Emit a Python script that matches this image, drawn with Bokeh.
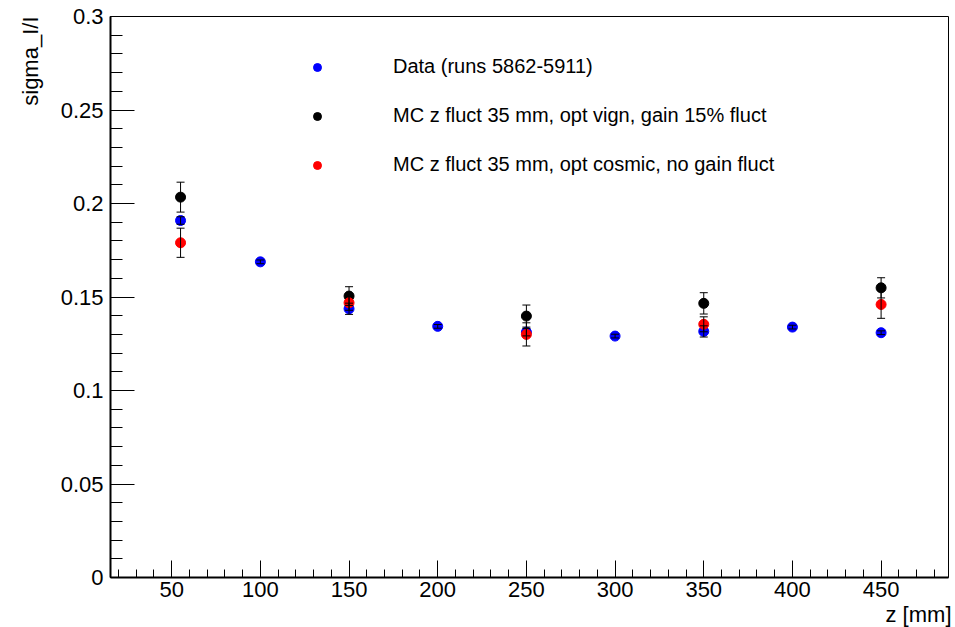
import math
from bokeh.plotting import figure
from bokeh.models import (Range1d, FixedTicker, Whisker, TeeHead, ColumnDataSource,
                          Title, Legend, LegendItem)
from bokeh.embed import file_html
from bokeh.resources import INLINE

# ---- data ----
x_data = [55, 100, 150, 200, 250, 300, 350, 400, 450]
y_data = [0.1909, 0.1688, 0.1437, 0.1343, 0.1312, 0.1291, 0.1316, 0.1339, 0.1309]
e_data = [0.002, 0.001, 0.003, 0.001, 0.002, 0.001, 0.003, 0.001, 0.001]

x_mc_vign = [55, 150, 250, 350, 450]
y_mc_vign = [0.2034, 0.1505, 0.1398, 0.1466, 0.1549]
e_mc_vign = [0.0080, 0.0050, 0.0059, 0.0057, 0.0054]

x_mc_cosmic = [55, 150, 250, 350, 450]
y_mc_cosmic = [0.1790, 0.1469, 0.1300, 0.1354, 0.1460]
e_mc_cosmic = [0.0078, 0.0040, 0.0062, 0.0040, 0.0074]

labels = ["Data (runs 5862-5911)",
          "MC z fluct 35 mm, opt vign, gain 15% fluct",
          "MC z fluct 35 mm, opt cosmic, no gain fluct"]
colors = ["#0000ff", "#000000", "#ff0000"]

x_ticks = [50, 100, 150, 200, 250, 300, 350, 400, 450]
x_minor = [v for v in range(20, 490, 10)]
y_ticks = [0.0, 0.05, 0.1, 0.15, 0.2, 0.25, 0.3]
y_tick_labels = ["0", "0.05", "0.1", "0.15", "0.2", "0.25", "0.3"]
y_minor = [i / 100 for i in range(0, 31)]

x_title = "z [mm]"
y_title = "sigma_I/I"

X_MIN, X_MAX = 15.5, 488
Y_MIN, Y_MAX = 0.0, 0.3

FONT = "Liberation Sans"

p = figure(width=955, height=627, output_backend="svg", toolbar_location=None,
           x_range=Range1d(X_MIN, X_MAX), y_range=Range1d(Y_MIN, Y_MAX),
           min_border_left=110, min_border_right=7, min_border_top=16,
           min_border_bottom=50, background_fill_color="white",
           border_fill_color="white")
p.xgrid.visible = False
p.ygrid.visible = False
p.outline_line_color = "black"
p.outline_line_width = 1

for ax in (p.xaxis[0], p.yaxis[0]):
    ax.axis_line_width = 2
    ax.axis_line_color = "black"
    ax.major_tick_out = 0
    ax.minor_tick_out = 0
    ax.major_tick_line_color = "black"
    ax.minor_tick_line_color = "black"
    ax.major_label_text_font = FONT
    ax.major_label_text_font_size = "22px"
    ax.major_label_text_color = "black"

p.xaxis[0].ticker = FixedTicker(ticks=x_ticks, minor_ticks=x_minor)
p.xaxis[0].major_tick_in = 17
p.xaxis[0].minor_tick_in = 8
p.xaxis[0].major_label_standoff = 4

p.yaxis[0].ticker = FixedTicker(ticks=y_ticks, minor_ticks=y_minor)
p.yaxis[0].major_tick_in = 24
p.yaxis[0].minor_tick_in = 12
p.yaxis[0].major_label_standoff = 7
p.yaxis[0].major_label_overrides = {t: l for t, l in zip(y_ticks, y_tick_labels)}

series = [(x_data, y_data, e_data), (x_mc_vign, y_mc_vign, e_mc_vign),
          (x_mc_cosmic, y_mc_cosmic, e_mc_cosmic)]
renderers = []
for (xs, ys, es), col in zip(series, colors):
    src = ColumnDataSource(dict(x=xs, y=ys,
                                lo=[a - b for a, b in zip(ys, es)],
                                hi=[a + b for a, b in zip(ys, es)]))
    w = Whisker(source=src, base="x", lower="lo", upper="hi",
                line_color="black", line_width=1, level="glyph",
                lower_head=TeeHead(size=8, line_color="black", line_width=1),
                upper_head=TeeHead(size=8, line_color="black", line_width=1))
    p.add_layout(w)
    r = p.scatter("x", "y", source=src, size=10, fill_color=col, line_color=col)
    renderers.append(r)

legend = Legend(items=[LegendItem(label=l, renderers=[r]) for l, r in zip(labels, renderers)],
                location=(197, 401), glyph_width=20, glyph_height=20, label_height=20,
                label_standoff=66, spacing=26, padding=10, margin=0,
                border_line_color=None, background_fill_alpha=0,
                label_text_font=FONT, label_text_font_size="20px",
                label_text_color="black")
p.add_layout(legend)

# axis titles, ROOT-style at the far ends of the axes
p.add_layout(Title(text=y_title, align="right", text_font=FONT,
                   text_font_size="22px", text_font_style="normal", text_color="black",
                   standoff=30), "left")
p.add_layout(Title(text=x_title, align="right", text_font=FONT, text_font_size="22px",
                   text_font_style="normal", text_color="black", standoff=0, offset=-3),
             "below")

open("out.html", "w").write(file_html(p, INLINE))
